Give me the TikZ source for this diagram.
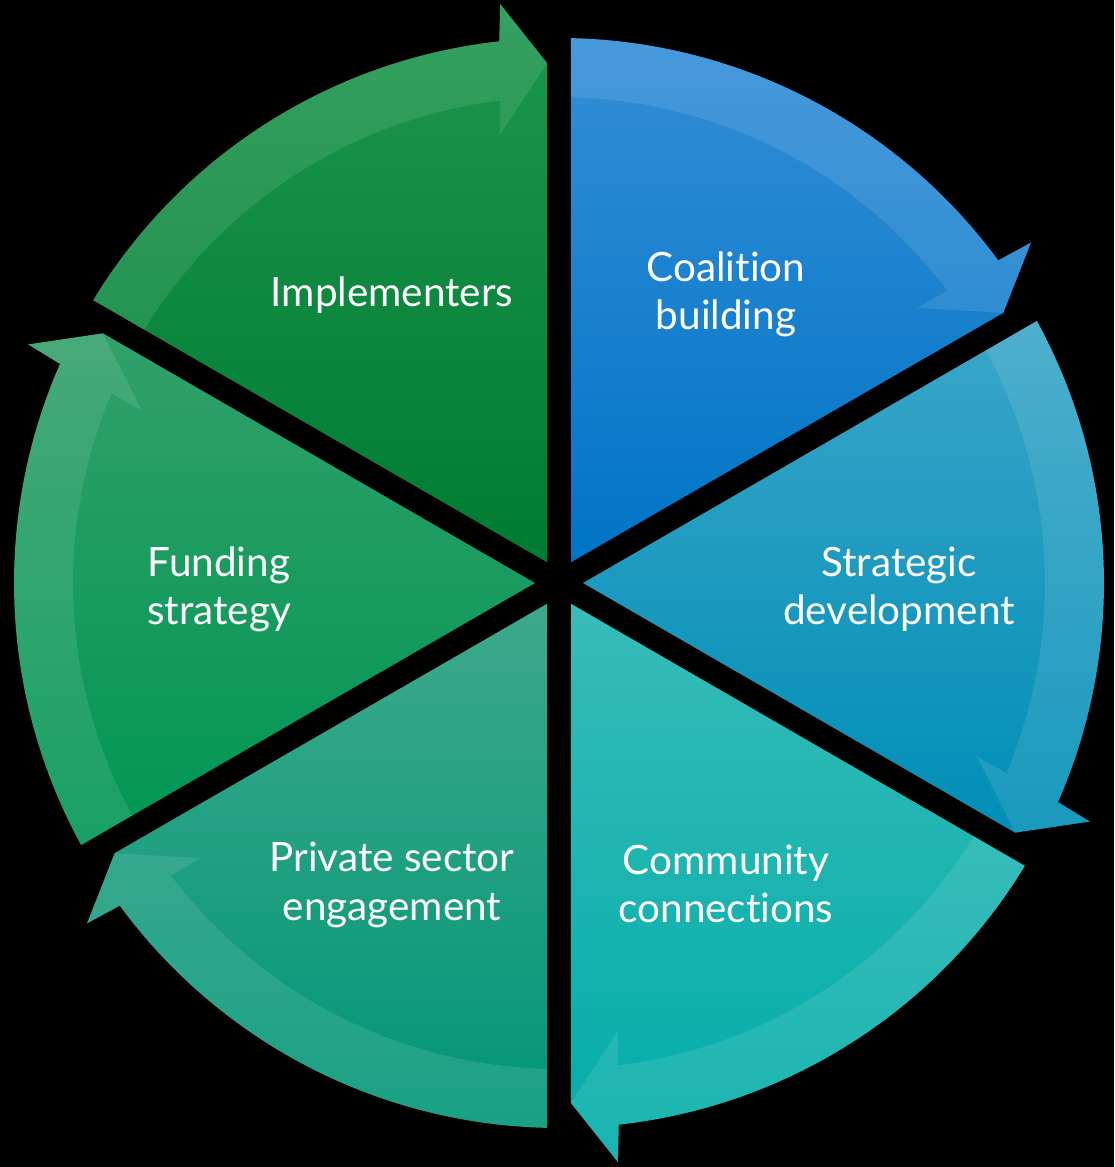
\documentclass[tikz,border=0pt]{standalone}
\usepackage{fontspec}
\setmainfont{Lato}[Ligatures={NoCommon}]
\usetikzlibrary{calc}
\definecolor{implTop}{RGB}{30, 150, 78}
\definecolor{implBot}{RGB}{0, 124, 50}
\definecolor{coalTop}{RGB}{52, 142, 214}
\definecolor{coalBot}{RGB}{0, 116, 198}
\definecolor{stratTop}{RGB}{58, 166, 200}
\definecolor{stratBot}{RGB}{0, 142, 182}
\definecolor{commTop}{RGB}{56, 188, 184}
\definecolor{commBot}{RGB}{0, 172, 168}
\definecolor{privTop}{RGB}{62, 168, 140}
\definecolor{privBot}{RGB}{0, 150, 118}
\definecolor{fundTop}{RGB}{50, 160, 106}
\definecolor{fundBot}{RGB}{0, 150, 84}

\begin{document}
\begin{tikzpicture}[
    seglabel/.style={
        text=white,
        align=center,
        font=\fontsize{11.5}{13.7}\selectfont
    },
    band/.style={
        fill=white,
        fill opacity=0.1
    }
]

% Black background, fixes the margins
\useasboundingbox (-5.59,-5.84) rectangle (5.55,5.83);
\fill[black] (-5.59,-5.84) rectangle (5.55,5.83);

% Six segments, each ending in an arrow head (clockwise)
\foreach \a/\topc/\botc in {150/implTop/implBot, 90/coalTop/coalBot,
    30/stratTop/stratBot, -30/commTop/commBot, -90/privTop/privBot,
    -150/fundTop/fundBot} {
    \pgfmathsetmacro\b{\a-60}
    \pgfmathsetmacro\m{\a-30}
    % pie slice with the arrow head
    \shade[top color=\topc, bottom color=\botc]
        (\m:0.24) -- ({\a-1.26}:5.45)
        arc[start angle=\a-1.26, end angle=\b+6.3, radius=5.45cm]
        -- ({\b+5.8}:5.82) -- ({\b+1.3}:5.20) -- cycle;
    % lighter arrow band along the rim
    \fill[band] ({\a-1.26}:5.45)
        arc[start angle=\a-1.26, end angle=\b+6.3, radius=5.45cm]
        -- ({\b+5.8}:5.82) -- ({\b+1.3}:5.20) -- ({\b+7.5}:4.52)
        -- ({\b+7.0}:4.86)
        arc[start angle=\b+7.0, end angle=\a-1.41, radius=4.86cm] -- cycle;
}

% Labels
\node[seglabel] (impl) at (-1.67,2.88) {Implementers};
\node[seglabel] (coal) at (1.67,2.89) {Coalition\\building};
\node[seglabel] (strat) at (3.40,-0.06) {Strategic\\development};
\node[seglabel] (comm) at (1.67,-3.01) {Community\\connections};
\node[seglabel] (priv) at (-1.67,-3.02) {Private sector\\engagement};
\node[seglabel] (fund) at (-3.40,-0.06) {Funding\\strategy};

\end{tikzpicture}
\end{document}
